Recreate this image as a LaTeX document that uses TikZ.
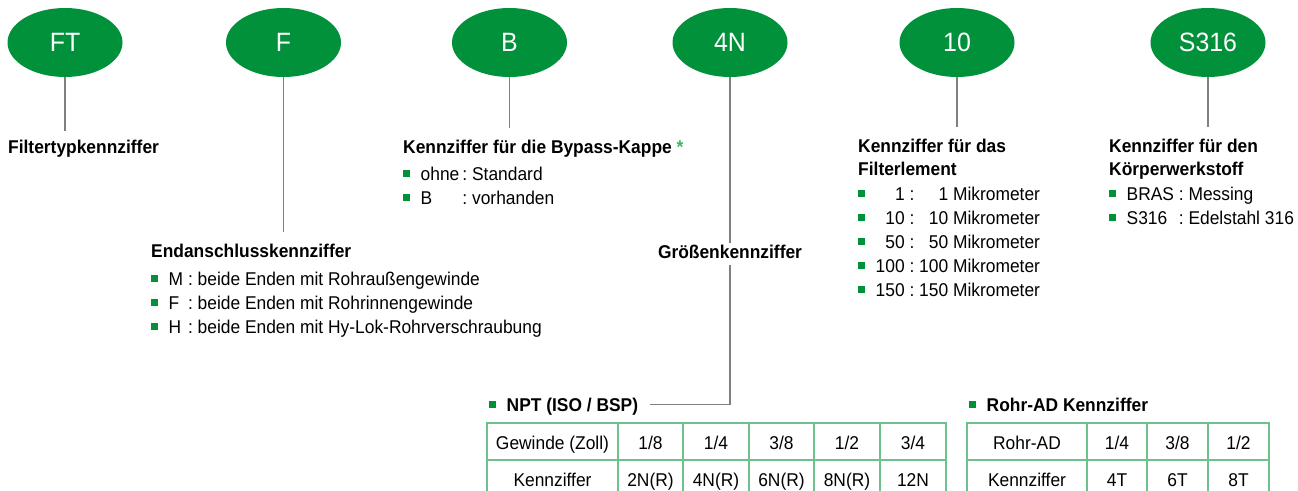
\documentclass[tikz,border=0pt]{standalone}
\usepackage{fontspec}
\setmainfont{Liberation Sans}[FakeStretch=0.94]
\usetikzlibrary{shapes.geometric}
\definecolor{hlgreen}{HTML}{00913A}
\definecolor{tblgreen}{HTML}{6CC28A}
\definecolor{stargreen}{HTML}{3DB562}
\definecolor{linegray}{HTML}{808080}
\newcommand{\bul}{\makebox[17.5pt][l]{\textcolor{hlgreen}{\rule[2.8pt]{7pt}{7pt}}}}
\tikzset{
  code/.style={ellipse, fill=hlgreen, text=white, minimum width=115pt, minimum height=69pt, inner sep=0pt, font=\fontsize{26.5}{30}\selectfont},
  lbl/.style={anchor=base west, inner xsep=0pt, inner ysep=8.5pt, font=\fontsize{18.5}{24}\selectfont},
  conn/.style={draw=linegray, line width=1.3pt},
  cell/.style={anchor=base, inner sep=0pt, font=\fontsize{18.5}{21}\selectfont},
  tbl/.style={draw=tblgreen, line width=1.2pt}
}

\begin{document}
\begin{tikzpicture}[x=1pt, y=-1pt]
\useasboundingbox (0,0) rectangle (1298,490);
\node[code] (gFT) at (65,42.5) {FT};
\node[code] (gF) at (283.5,42.5) {F};
\node[code] (gB) at (509.5,42.5) {B};
\node[code] (g4N) at (730,42.5) {4N};
\node[code] (g10) at (957,42.5) {10};
\node[code] (gS) at (1208,42.5) {S316};

\node[lbl] (lFT) at (8,153) {\textbf{Filtertypkennziffer}};
\node[lbl] (lF) at (151,257) {\begin{tabular}[t]{@{}l@{}l@{\ :\ }l@{}}
  \multicolumn{3}{@{}l@{}}{\textbf{Endanschlusskennziffer}}\\[4pt]
  \bul & M & beide Enden mit Rohraußengewinde\\
  \bul & F & beide Enden mit Rohrinnengewinde\\
  \bul & H & beide Enden mit Hy-Lok-Rohrverschraubung
\end{tabular}};
\node[lbl] (lB) at (403,153) {\begin{tabular}[t]{@{}l@{}l@{\,:\ }l@{}}
  \multicolumn{3}{@{}l@{}}{\textbf{Kennziffer für die Bypass-Kappe} \textcolor{stargreen}{\textbf{*}}}\\[3pt]
  \bul & ohne & Standard\\
  \bul & B & vorhanden
\end{tabular}};
\node[font=\fontsize{18.5}{24}\selectfont, anchor=base, inner ysep=1.5pt, text height=13pt, text depth=5pt] (grs) at (730,258) {\textbf{Größenkennziffer}};
\node[lbl] (l10) at (858,152.5) {\begin{tabular}[t]{@{}l@{}r@{\ :\ }r@{\ }l@{}}
  \multicolumn{4}{@{}l@{}}{\textbf{Kennziffer für das}}\\[-1.5pt]
  \multicolumn{4}{@{}l@{}}{\textbf{Filterlement}}\\[1pt]
  \bul & 1 & 1 & Mikrometer\\
  \bul & 10 & 10 & Mikrometer\\
  \bul & 50 & 50 & Mikrometer\\
  \bul & 100 & 100 & Mikrometer\\
  \bul & 150 & 150 & Mikrometer
\end{tabular}};
\node[lbl] (lS) at (1109,152.5) {\begin{tabular}[t]{@{}l@{}l@{\ :\ }l@{}}
  \multicolumn{3}{@{}l@{}}{\textbf{Kennziffer für den}}\\[-1.5pt]
  \multicolumn{3}{@{}l@{}}{\textbf{Körperwerkstoff}}\\[1pt]
  \bul & BRAS & Messing\\
  \bul & S316 & Edelstahl 316
\end{tabular}};

\draw[conn] (gFT.south) -- (gFT.south |- lFT.north);
\draw[conn] (gF.south) -- (gF.south |- lF.north);
\draw[conn] (gB.south) -- (gB.south |- lB.north);
\draw[conn] (g10.south) -- (g10.south |- l10.north);
\draw[conn] (gS.south) -- (gS.south |- lS.north);
\draw[conn] (g4N.south) -- (g4N.south |- grs.north);

\node[lbl, inner ysep=0pt, text height=13pt, text depth=0pt] (npt) at (489,411) {\bul\textbf{NPT (ISO / BSP)}};
\node[lbl] (rad) at (969,411) {\bul\textbf{Rohr-AD Kennziffer}};
\draw[conn] (g4N.south |- grs.south) |- ([xshift=12pt]npt.east);

\draw[tbl] (487,423) rectangle (946,497);
\draw[tbl] (487,460) -- (946,460);
\foreach \x in {618,683,749,814,880}
  \draw[tbl] (\x,423) -- (\x,497);
\foreach \x/\a/\b [count=\i] in {552.5/Gewinde (Zoll)/Kennziffer, 650.5/{1/8}/2N(R), 716/{1/4}/4N(R), 781.5/{3/8}/6N(R), 847/{1/2}/8N(R), 913/{3/4}/12N} {
  \node[cell] (nptA\i) at (\x,449) {\a};
  \node[cell] (nptB\i) at (\x,486) {\b};
}

\draw[tbl] (967,423) rectangle (1269,497);
\draw[tbl] (967,460) -- (1269,460);
\foreach \x in {1087,1147,1208}
  \draw[tbl] (\x,423) -- (\x,497);
\foreach \x/\a/\b [count=\i] in {1027/Rohr-AD/Kennziffer, 1117/{1/4}/4T, 1177.5/{3/8}/6T, 1238.5/{1/2}/8T} {
  \node[cell] (radA\i) at (\x,449) {\a};
  \node[cell] (radB\i) at (\x,486) {\b};
}
\end{tikzpicture}
\end{document}
